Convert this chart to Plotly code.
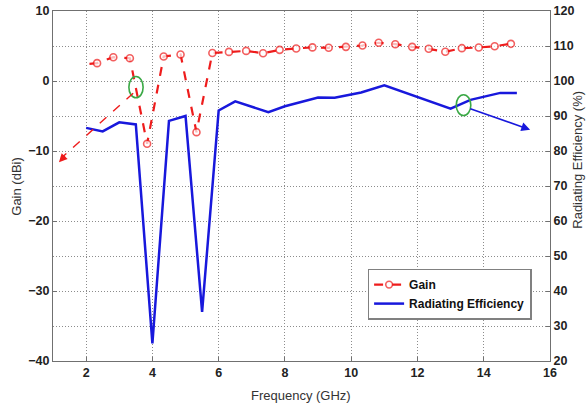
import plotly.graph_objects as go

# ---------------- data ----------------
gain_freq = [2.1, 2.33, 2.82, 3.32, 3.84, 4.34, 4.85, 5.33, 5.81, 6.31, 6.83, 7.34, 7.84,
             8.34, 8.83, 9.32, 9.84, 10.34, 10.83, 11.33, 11.84, 12.34, 12.84, 13.34,
             13.85, 14.33, 14.82]
gain_db = [2.45, 2.55, 3.4, 3.26, -8.97, 3.5, 3.79, -7.31, 4.0, 4.16, 4.3, 3.97, 4.45,
           4.65, 4.8, 4.74, 4.88, 5.07, 5.46, 5.26, 4.88, 4.6, 4.17, 4.69, 4.79, 4.97, 5.31]
gain_marker_shown = [0] + [1] * (len(gain_freq) - 1)

eff_freq = [2.0, 2.5, 3.0, 3.5, 4.0, 4.5, 5.0, 5.5, 6.0, 6.5, 7.5, 8.0, 9.0, 9.5,
            10.3, 11.0, 13.0, 13.6, 14.5, 15.0]
eff_pct = [86.6, 85.6, 88.2, 87.6, 25.0, 88.6, 90.0, 34.0, 91.6, 94.2, 91.1, 92.8,
           95.3, 95.2, 96.7, 98.8, 92.1, 94.6, 96.6, 96.6]

x_ticks = [2, 4, 6, 8, 10, 12, 14, 16]
gain_ticks = [-40, -30, -20, -10, 0, 10]
eff_ticks = [20, 30, 40, 50, 60, 70, 80, 90, 100, 110, 120]

RED = "#ee1c1c"
BLUE = "#1818dc"
GREEN = "#3aa845"
FONT = "Liberation Sans, Arial, sans-serif"

fig = go.Figure()
fig.add_trace(go.Scatter(
    x=gain_freq, y=gain_db, name="Gain", mode="lines+markers",
    line=dict(color=RED, width=2.2, dash="dash"),
    marker=dict(symbol="circle", size=[7 * s for s in gain_marker_shown], color="white",
                line=dict(color=RED, width=1.6)),
    yaxis="y"))
fig.add_trace(go.Scatter(
    x=eff_freq, y=eff_pct, name="Radiating Efficiency", mode="lines",
    line=dict(color=BLUE, width=2.5),
    yaxis="y2"))

axis_common = dict(showline=True, linecolor="#707070", linewidth=1.2, ticks="inside",
                   ticklen=4, tickcolor="#707070", zeroline=False,
                   tickfont=dict(family=FONT, size=12.5, color="#222", weight="bold"))
grid_common = dict(showgrid=True, gridcolor="#8c8c8c", griddash="1px,2px", gridwidth=1.2)

fig.update_layout(
    width=588, height=406,
    margin=dict(l=52.5, r=38.3, t=10.5, b=45.3, autoexpand=False),
    paper_bgcolor="white", plot_bgcolor="white",
    font=dict(family=FONT, color="#222"),
    xaxis=dict(range=[1, 16], tickvals=x_ticks, mirror=True, **grid_common, **axis_common),
    yaxis=dict(range=[-40, 10], tickvals=gain_ticks, showgrid=False, **axis_common),
    yaxis2=dict(range=[20, 120], tickvals=eff_ticks, overlaying="y", side="right",
                **grid_common, **axis_common),
    legend=dict(x=0.633, y=0.264, xanchor="left", yanchor="top",
                bgcolor="white", bordercolor="#808080", borderwidth=1.5,
                font=dict(family=FONT, size=12, color="#111", weight="bold"),
                tracegroupgap=0),
    showlegend=True,
)

# axis titles
fig.add_annotation(text="Frequency (GHz)", xref="paper", yref="paper", x=0.498, y=-0.098,
                   showarrow=False, font=dict(family=FONT, size=13, color="#333"),
                   xanchor="center", yanchor="middle")
fig.add_annotation(text="Gain (dBi)", xref="paper", yref="paper", x=-0.075, y=0.5,
                   textangle=-90, showarrow=False, font=dict(family=FONT, size=13, color="#333"),
                   xanchor="center", yanchor="middle")
fig.add_annotation(text="Radiating Efficiency (%)", xref="paper", yref="paper", x=1.055, y=0.576,
                   textangle=-90, showarrow=False, font=dict(family=FONT, size=13, color="#333"),
                   xanchor="center", yanchor="middle")

# green ellipses
fig.add_shape(type="circle", xref="x", yref="y", x0=3.29, x1=3.72, y0=-2.4, y1=0.64,
              line=dict(color=GREEN, width=1.6))
fig.add_shape(type="circle", xref="x", yref="y", x0=13.17, x1=13.61, y0=-4.93, y1=-1.97,
              line=dict(color=GREEN, width=1.6))

# red dashed arrow to the left axis
fig.add_shape(type="line", xref="x", yref="y", x0=3.42, y0=-1.74, x1=1.3, y1=-10.8,
              line=dict(color=RED, width=1.4, dash="dash"))
fig.add_annotation(x=1.18, y=-11.6, ax=1.4, ay=-10.5, xref="x", yref="y", axref="x", ayref="y",
                   text="", showarrow=True, arrowhead=2, arrowsize=1.1, arrowwidth=1.5,
                   arrowcolor=RED)
# blue arrow to the right axis
fig.add_annotation(x=15.4, y=-6.95, ax=13.55, ay=-3.9, xref="x", yref="y", axref="x", ayref="y",
                   text="", showarrow=True, arrowhead=2, arrowsize=1.1, arrowwidth=1.6,
                   arrowcolor=BLUE)

fig.write_html("out.html", config={"displayModeBar": False},
               post_script="document.body.style.margin='0';")
